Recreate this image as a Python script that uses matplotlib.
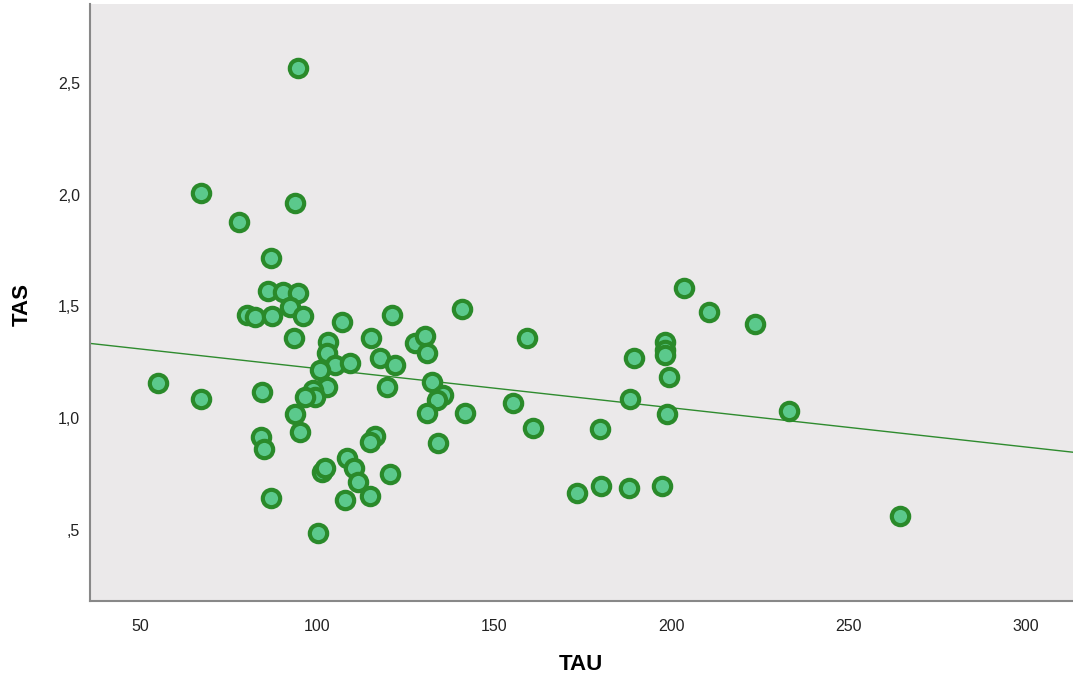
import matplotlib
matplotlib.use('Agg')
import matplotlib.pyplot as plt
import numpy as np
from matplotlib.ticker import FuncFormatter

# TAU / TAS values
tau = [94.6, 67.2, 93.8, 78.0, 87.0, 86.2, 90.4, 94.6, 80.2, 82.5,
       87.3, 92.4, 96.0, 93.5, 107.1, 121.2, 141.0, 103.1, 102.8, 105.1,
       109.3, 100.8, 102.8, 98.9, 99.4, 96.6, 93.8, 95.2, 55.1, 67.2,
       84.5, 84.2, 85.0, 87.0, 115.3, 117.8, 122.0, 119.8, 127.7, 130.5,
       131.1, 132.5, 135.6, 133.9, 131.1, 141.8, 134.2, 116.4, 115.0, 101.4,
       102.3, 108.5, 110.5, 111.6, 120.6, 107.9, 115.0, 100.3, 159.3, 155.4,
       161.0, 179.7, 173.2, 180.2, 188.1, 197.2, 189.3, 188.4, 198.3, 198.3,
       198.3, 199.4, 198.6, 203.4, 210.5, 223.7, 233.1, 264.4]
tas = [2.567, 2.008, 1.963, 1.878, 1.717, 1.569, 1.565, 1.560, 1.462, 1.453,
       1.457, 1.498, 1.457, 1.359, 1.431, 1.462, 1.489, 1.341, 1.292, 1.238,
       1.247, 1.216, 1.140, 1.126, 1.095, 1.095, 1.019, 0.938, 1.158, 1.086,
       1.117, 0.916, 0.862, 0.643, 1.359, 1.270, 1.238, 1.140, 1.337, 1.368,
       1.292, 1.162, 1.104, 1.082, 1.023, 1.023, 0.889, 0.921, 0.894, 0.760,
       0.777, 0.822, 0.777, 0.715, 0.751, 0.634, 0.652, 0.487, 1.359, 1.068,
       0.956, 0.952, 0.666, 0.697, 0.688, 0.697, 1.270, 1.086, 1.341, 1.305,
       1.283, 1.185, 1.019, 1.583, 1.475, 1.422, 1.032, 0.563]

x_ticks = [50, 100, 150, 200, 250, 300]
y_ticks = [0.5, 1.0, 1.5, 2.0, 2.5]


def comma_fmt(v, pos):
    s = f"{v:.1f}".replace(".", ",")
    if s.startswith("0"):
        s = s[1:]
    return s


def main():
    plt.rcParams['font.family'] = ['Liberation Sans', 'DejaVu Sans']

    fig = plt.figure(figsize=(10.73, 6.86), dpi=100)
    ax = fig.add_axes([90 / 1073, 85 / 686, 983 / 1073, 597 / 686])
    ax.set_facecolor('#ebe9ea')

    xmin, xmax = 35.9, 313.3
    ymin, ymax = 0.182, 2.853

    # 回帰直線
    slope, intercept = np.polyfit(tau, tas, 1)
    xs = np.array([xmin, xmax])
    ax.plot(xs, intercept + slope * xs, color='#2e8b2e', linewidth=1.0, zorder=2)

    ax.scatter(tau, tas, s=12.5 ** 2, facecolor='#5bc98c', edgecolor='#2a8a2a',
               linewidths=3.0, zorder=3)

    ax.set_xlim(xmin, xmax)
    ax.set_ylim(ymin, ymax)
    ax.set_xticks(x_ticks)
    ax.set_yticks(y_ticks)
    ax.yaxis.set_major_formatter(FuncFormatter(comma_fmt))
    ax.tick_params(length=0, labelsize=11.5, colors='#222222')
    ax.tick_params(axis='x', pad=13)
    ax.tick_params(axis='y', pad=7)

    for side in ['top', 'right']:
        ax.spines[side].set_visible(False)
    for side in ['left', 'bottom']:
        ax.spines[side].set_color('#888888')
        ax.spines[side].set_linewidth(1.5)

    fig.text(581 / 1073, 1 - 665 / 686, 'TAU', ha='center', va='center',
             fontsize=16, fontweight='bold')
    fig.text(22 / 1073, 1 - 305 / 686, 'TAS', ha='center', va='center',
             rotation=90, fontsize=16, fontweight='bold')

    fig.savefig('out.png', dpi=100)


if __name__ == "__main__":
    main()
